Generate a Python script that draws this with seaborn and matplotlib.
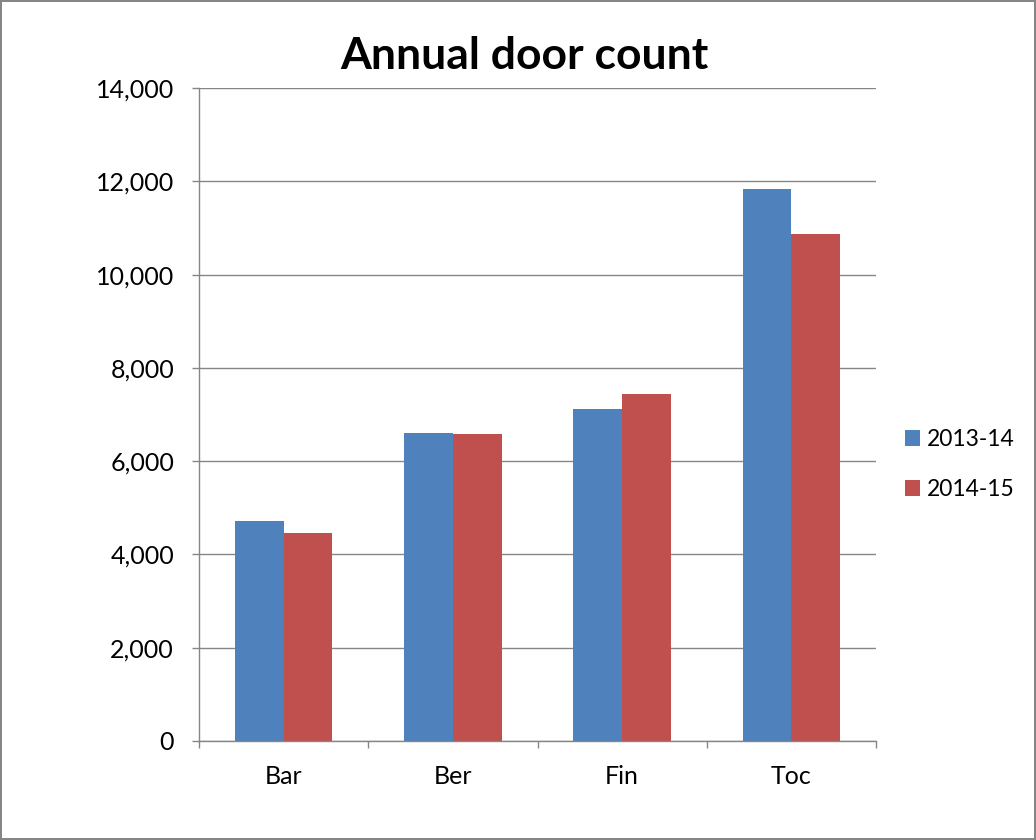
import matplotlib
matplotlib.use("Agg")
import matplotlib.pyplot as plt
from matplotlib.ticker import FuncFormatter, FixedLocator
import seaborn as sns
import pandas as pd

# Annual door count per branch, two fiscal years
branches = ["Bar", "Ber", "Fin", "Toc"]
years = ["2013-14", "2014-15"]
counts_2013_14 = [4713, 6594, 7109, 11828]
counts_2014_15 = [4450, 6579, 7444, 10863]
y_ticks = [0, 2000, 4000, 6000, 8000, 10000, 12000, 14000]

df = pd.DataFrame({
    "branch": branches * 2,
    "year": [years[0]] * len(branches) + [years[1]] * len(branches),
    "count": counts_2013_14 + counts_2014_15,
})

sns.set_theme(style="white")
plt.rcParams["font.family"] = ["Lato", "DejaVu Sans"]
plt.rcParams["text.color"] = "black"

fig = plt.figure(figsize=(10.36, 8.4), dpi=100)
fig.patch.set_edgecolor("#868686")
fig.patch.set_linewidth(1.5)
ax = fig.add_axes([0.1921, 0.1179, 0.8456 - 0.1921, 0.8952 - 0.1179])

palette = {"2013-14": "#4F81BD", "2014-15": "#C0504D"}
sns.barplot(data=df, x="branch", y="count", hue="year", palette=palette,
            width=0.575, gap=0, dodge=True, saturation=1, ax=ax,
            edgecolor="none", legend=True)

ax.set_ylim(0, 14000)
ax.set_xlim(-0.5, 3.5)
ax.yaxis.set_major_locator(FixedLocator(y_ticks))
ax.yaxis.set_major_formatter(FuncFormatter(lambda v, p: f"{int(v):,}"))
ax.grid(axis="y", color="#868686", linewidth=1)
ax.set_axisbelow(True)

for s in ["top", "right"]:
    ax.spines[s].set_visible(False)
for s in ["left", "bottom"]:
    ax.spines[s].set_color("#868686")
    ax.spines[s].set_linewidth(1)

ax.set_xlabel("")
ax.set_ylabel("")
ax.tick_params(axis="y", which="major", direction="out", length=5, width=1,
               color="#868686", pad=13, labelsize=18, labelcolor="black", left=True)
ax.tick_params(axis="x", which="major", length=0, pad=17, labelsize=18, labelcolor="black")
ax.set_xticks([-0.5, 0.5, 1.5, 2.5, 3.5], minor=True)
ax.tick_params(axis="x", which="minor", direction="out", length=5, width=1,
               color="#868686", bottom=True)

fig.text(524 / 1036, 1 - 56 / 840, "Annual door count", ha="center", va="center",
         fontsize=32, fontweight="bold", color="black")

leg = ax.legend(loc="center left", bbox_to_anchor=(1.043, 0.4234), frameon=False,
                fontsize=16.5, handlelength=0.65, handleheight=0.65,
                handletextpad=0.3, labelspacing=1.26, borderpad=0, borderaxespad=0)

fig.savefig("out.png", dpi=100, edgecolor=fig.get_edgecolor())
